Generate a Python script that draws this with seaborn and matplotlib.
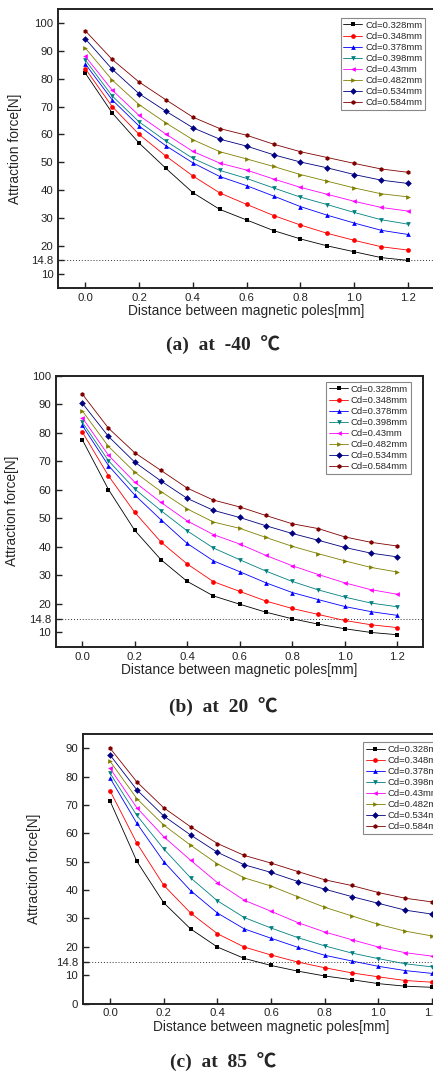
import numpy as np
import pandas as pd
import matplotlib
matplotlib.use("Agg")
import matplotlib.pyplot as plt
import seaborn as sns

distance = [0.0, 0.1, 0.2, 0.3, 0.4, 0.5, 0.6, 0.7, 0.8, 0.9, 1.0, 1.1, 1.2]
cd_labels = ["Cd=0.328mm", "Cd=0.348mm", "Cd=0.378mm", "Cd=0.398mm",
             "Cd=0.43mm", "Cd=0.482mm", "Cd=0.534mm", "Cd=0.584mm"]

# (a) at -40 C
force_m40 = [
    [82.0, 67.7, 56.9, 47.8, 39.1, 33.1, 29.3, 25.5, 22.5, 20.0, 17.9, 15.8, 14.8],
    [83.6, 70.0, 60.0, 52.2, 45.1, 39.0, 34.9, 30.9, 27.5, 24.5, 22.0, 19.7, 18.5],
    [85.3, 72.4, 63.0, 55.9, 49.8, 44.9, 41.6, 37.9, 34.1, 31.0, 28.2, 25.6, 24.1],
    [86.7, 73.8, 64.5, 57.6, 51.4, 47.1, 44.2, 40.8, 37.5, 34.8, 32.0, 29.4, 27.8],
    [88.0, 75.9, 66.8, 60.1, 53.9, 49.7, 47.2, 44.0, 41.0, 38.5, 36.0, 33.8, 32.5],
    [91.0, 79.5, 70.7, 64.1, 58.1, 53.8, 51.2, 48.5, 45.6, 43.2, 40.8, 38.7, 37.6],
    [94.3, 83.4, 74.6, 68.3, 62.4, 58.3, 55.8, 52.7, 50.1, 48.0, 45.6, 43.6, 42.4],
    [97.2, 86.9, 78.8, 72.4, 66.2, 62.1, 59.7, 56.5, 53.8, 51.7, 49.6, 47.6, 46.4],
]
# (b) at 20 C
force_20 = [
    [77.6, 60.1, 45.8, 35.5, 27.9, 22.8, 19.9, 17.1, 14.8, 12.9, 11.3, 10.0, 9.2],
    [80.3, 64.9, 52.1, 41.7, 34.0, 27.8, 24.4, 21.0, 18.4, 16.3, 14.2, 12.7, 11.7],
    [82.6, 68.5, 58.2, 49.5, 41.2, 35.1, 31.3, 27.4, 24.0, 21.5, 19.1, 17.3, 16.0],
    [83.7, 70.2, 60.3, 52.7, 45.6, 39.6, 35.5, 31.5, 27.9, 24.9, 22.4, 20.3, 19.0],
    [85.3, 72.1, 62.7, 55.6, 49.1, 44.3, 41.0, 37.0, 33.4, 30.3, 27.4, 25.0, 23.4],
    [87.7, 75.2, 66.2, 59.4, 53.3, 48.7, 46.5, 43.3, 40.2, 37.6, 35.1, 32.8, 31.2],
    [90.4, 78.7, 69.7, 63.1, 57.0, 52.8, 50.3, 47.4, 44.7, 42.3, 39.8, 37.8, 36.5],
    [93.6, 81.6, 73.0, 66.8, 60.6, 56.4, 54.0, 51.0, 48.1, 46.4, 43.5, 41.6, 40.3],
]
# (c) at 85 C
force_85 = [
    [71.4, 50.1, 35.5, 26.3, 19.9, 15.9, 13.4, 11.4, 9.7, 8.4, 7.0, 6.1, 5.7],
    [75.0, 56.5, 41.7, 31.9, 24.6, 19.9, 17.1, 14.6, 12.6, 10.8, 9.4, 8.1, 7.5],
    [79.5, 63.5, 50.0, 39.8, 31.9, 26.3, 23.0, 19.8, 17.0, 15.0, 13.1, 11.6, 10.6],
    [81.2, 66.3, 54.5, 44.3, 36.2, 30.3, 26.6, 23.2, 20.3, 17.8, 15.8, 14.0, 12.9],
    [82.9, 69.0, 58.8, 50.5, 42.6, 36.4, 32.5, 28.5, 25.2, 22.5, 19.9, 17.9, 16.7],
    [85.4, 72.2, 62.9, 55.8, 49.2, 44.3, 41.4, 37.6, 33.9, 30.9, 27.9, 25.5, 23.8],
    [87.6, 75.3, 66.1, 59.4, 53.3, 48.9, 46.2, 43.0, 40.3, 37.7, 35.3, 32.9, 31.5],
    [90.0, 78.1, 69.0, 62.3, 56.4, 52.2, 49.5, 46.5, 43.6, 41.6, 39.1, 37.1, 35.8],
]
captions = ["(a)  at  -40  \u2103", "(b)  at  20  \u2103", "(c)  at  85  \u2103"]
ref_level = 14.8

colors = ["#000000", "#FF0000", "#0000FF", "#008080", "#FF00FF",
          "#808000", "#000080", "#800000"]
markers = ["s", "o", "^", "v", "<", ">", "D", "h"]

sns.set_style("ticks")
plt.rcParams["font.family"] = ["Liberation Sans", "DejaVu Sans"]

fig = plt.figure(figsize=(4.33, 10.73), dpi=100)
W, H = 433.0, 1073.0


def make_axes(left, right, top, bottom):
    return fig.add_axes([left / W, 1 - bottom / H, (right - left) / W, (bottom - top) / H])


panels = [
    dict(data=force_m40, box=(58.4, 434.9, 9.0, 287.7), ylim=(5, 105),
         yticks=[10, 20, 30, 40, 50, 60, 70, 80, 90, 100],
         leg=dict(loc="upper right", bbox_to_anchor=(0.974, 0.968)), lpad=7,
         cap_y=345),
    dict(data=force_20, box=(56.0, 423.3, 375.7, 646.7), ylim=(5, 100),
         yticks=[10, 20, 30, 40, 50, 60, 70, 80, 90, 100],
         leg=dict(loc="upper right", bbox_to_anchor=(0.966, 0.977)), lpad=7,
         cap_y=707),
    dict(data=force_85, box=(83.2, 459.0, 734.0, 1003.5), ylim=(0, 95),
         yticks=[0, 10, 20, 30, 40, 50, 60, 70, 80, 90],
         leg=dict(loc="upper left", bbox_to_anchor=(0.745, 0.970)), lpad=11,
         cap_y=1062),
]

for p, cap in zip(panels, captions):
    ax = make_axes(*p["box"])
    rows = []
    for lab, vals in zip(cd_labels, p["data"]):
        for d, v in zip(distance, vals):
            rows.append((d, v, lab))
    df = pd.DataFrame(rows, columns=["d", "F", "Cd"])
    sns.lineplot(data=df, x="d", y="F", hue="Cd", style="Cd",
                 hue_order=cd_labels, style_order=cd_labels,
                 palette=colors, markers=markers, dashes=False,
                 linewidth=0.6, markersize=3.4, markeredgewidth=0,
                 ax=ax, legend="full")
    ax.axhline(ref_level, color="#333333", linestyle=(0, (1, 2)), linewidth=0.7, zorder=0)
    ax.set_xlim(-0.1, 1.3)
    ax.set_ylim(*p["ylim"])
    ax.set_xticks([0.0, 0.2, 0.4, 0.6, 0.8, 1.0, 1.2])
    ax.set_xticklabels(["0.0", "0.2", "0.4", "0.6", "0.8", "1.0", "1.2"])
    yt = p["yticks"] + [ref_level]
    ax.set_yticks(yt)
    ax.set_yticklabels([str(t) for t in yt])
    ax.tick_params(direction="in", length=4.5, width=1.0, labelsize=8.2,
                   colors="#222222", pad=3.5)
    for s in ax.spines.values():
        s.set_linewidth(1.4)
        s.set_color("#222222")
        s.set_visible(True)
    ax.set_xlabel("Distance between magnetic poles[mm]", fontsize=9.9, labelpad=1)
    ax.set_ylabel("Attraction force[N]", fontsize=9.9, labelpad=p["lpad"])
    handles, labels = ax.get_legend_handles_labels()
    leg = ax.legend(handles, labels, fontsize=6.8, frameon=True, fancybox=False,
                    edgecolor="#888888", framealpha=1, borderaxespad=0,
                    handlelength=2.0, handletextpad=0.3, labelspacing=0.22,
                    borderpad=0.3, **p["leg"])
    leg.get_frame().set_linewidth(0.8)
    fig.text(223 / W, 1 - p["cap_y"] / H, cap, ha="center", va="center",
             fontsize=14, fontweight="bold",
             family=["Liberation Serif", "Noto Sans CJK SC"])

fig.savefig("out.png", dpi=100)
